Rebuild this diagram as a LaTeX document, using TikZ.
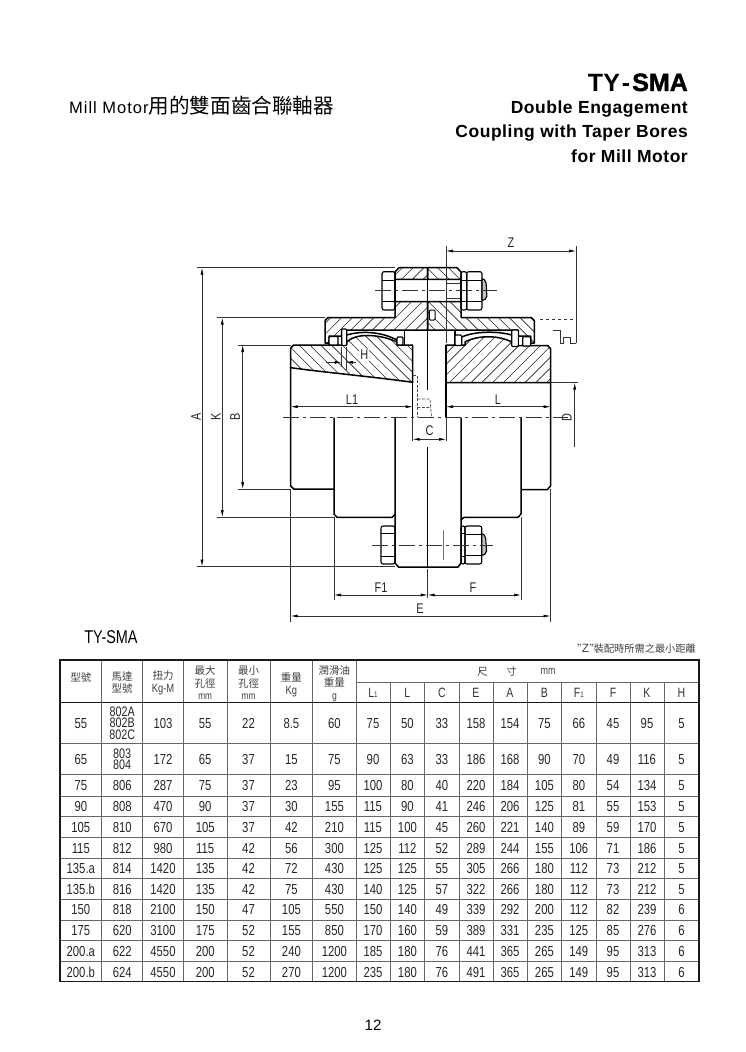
\documentclass[tikz,border=0pt]{standalone}
\usepackage{fontspec}
\setmainfont{Liberation Sans}
\newfontfamily\dft[FakeStretch=0.78]{Liberation Sans}
\newfontfamily\cjk{Noto Sans CJK TC}
\newfontfamily\boldt{Liberation Sans Bold}
\usetikzlibrary{arrows.meta}
\tikzset{
  thickl/.style={line width=1.5pt,black,line join=round},
  thinl/.style={line width=.6pt,black!80},
  hatchline/.style={line width=.6pt,black!85},
  dimboth/.style={thinl,{Latex[length=7pt,width=3pt,black]}-{Latex[length=7pt,width=3pt,black]}},
  dimend/.style={thinl,-{Latex[length=7pt,width=3pt,black]}},
  centre/.style={thinl,dash pattern=on 16pt off 4pt on 3pt off 4pt},
  hidden/.style={line width=.7pt,black!70,dash pattern=on 3pt off 1.5pt},
  lab/.style={font=\dft\fontsize{14}{14}\selectfont,text=black!85,inner sep=0pt},
  tcell/.style={font=\dft\fontsize{14.5}{11.6}\selectfont,text=black!85,inner sep=0pt,align=center},
  tmulti/.style={font=\dft\fontsize{13.8}{11.5}\selectfont,text=black!85,inner sep=0pt,align=center},
  thead/.style={font=\cjk\fontsize{10.5}{12.5}\selectfont,text=black!75,inner sep=0pt,align=center},
  subhead/.style={font=\dft\fontsize{13.5}{13.5}\selectfont,text=black!80,inner sep=0pt},
  sub/.style={font=\boldt\fontsize{17.5}{18}\selectfont,inner sep=0pt,anchor=base east},
  tline/.style={line width=.6pt,black!60},
  tthick/.style={line width=1.3pt,black!90},
}
\newcommand{\cb}[1]{\raisebox{0pt}[10.4pt][0pt]{#1}}
\newcommand{\tblrow}[4]{%
  \node[tcell] (r#1-0) at (80.8,#2) {\cb{#1}};
  \node[tmulti] (r#1-m) at (122.2,#2) {#3};
  \foreach \v [count=\i] in {#4}{
    \pgfmathsetmacro\cx{{163,205.2,248.5,291.4,334.4,373,407.4,441.8,476,510,544.4,578.8,613,647,681.5}[\i-1]}
    \node[tcell] (r#1-\i) at (\cx,#2) {\cb{\v}};
  }%
}
% closed outline with hatching: #1 = path, #2 = +1 for a backslash slope, -1 for a slash slope
\newcommand{\hatched}[2]{%
  \begin{scope}
    \clip #1;
    \foreach \k in {150,160.8,...,700}{
      \draw[hatchline] (\k,250) -- ({\k+#2*150},400);
    }
  \end{scope}
  \draw[thickl] #1;
}
\newcommand{\hexnut}[6]{% x0 x1 ytop ybot yl1 yl2
  \draw[line width=1.1pt,rounded corners=2pt] (#1,#3) rectangle (#2,#4);
  \draw[line width=.8pt] (#1,#5) -- (#2,#5) (#1,#6) -- (#2,#6);
}
\begin{document}
\begin{tikzpicture}[x=1pt,y=-1pt]
\useasboundingbox (0,0) rectangle (745,1052);
\fill[white] (0,0) rectangle (745,1052);

% ---- titles
\node[inner sep=0pt,anchor=base west] (titleleft) at (69,113) {\fontsize{16.5}{18}\selectfont\addfontfeature{LetterSpace=6}Mill Motor\cjk\fontsize{20.6}{22}\selectfont 用的雙面齒合聯軸器};
\node[inner sep=0pt,anchor=base east] (titlea) at (688,91) {\boldt\fontsize{25}{25}\selectfont TY\kern2pt-\kern2pt{\addfontfeature{FakeBold=1.5}SMA}};
\node[sub] (titleb) at (688,113) {\addfontfeature{LetterSpace=3}Double Engagement};
\node[sub] (titlec) at (688,137) {\addfontfeature{LetterSpace=3}Coupling with Taper Bores};
\node[sub] (titled) at (688,162) {\addfontfeature{LetterSpace=3}for Mill Motor};

% ---- hubs
\hatched{(290.7,367.7) .. controls (330,373) and (375,377) .. (412.7,382.3)
  -- (412.7,345) -- (397,345) -- (397,342) .. controls (385,336) and (358,331) .. (346.7,342)
  -- (346.7,345) -- (293.7,345) -- (290.7,348) -- cycle}{1}
\hatched{(446,382.7) -- (446,345) -- (465,345) -- (465,342)
  .. controls (478,335) and (498,335) .. (511.7,342) -- (511.7,345.5) -- (547.5,345.5)
  -- (550.5,348.5) -- (550.5,382.7) -- cycle}{-1}

% ---- sleeve halves with flange
\hatched{(325,343) -- (325,320.5) -- (328,317.5) -- (395,317.5) -- (395,301.7) -- (427.7,301.7)
  -- (427.7,330) -- (341.7,330) -- (341.7,336) -- (329,336) -- (329,343) -- cycle}{-1}
\hatched{(534.3,343) -- (534.3,320.5) -- (531.3,317.5) -- (461,317.5) -- (461,301.7) -- (427.7,301.7)
  -- (427.7,330) -- (518.3,330) -- (518.3,336) -- (530.7,336) -- (530.7,343) -- cycle}{1}
\hatched{(395,279.3) -- (395,272) -- (399,267.7) -- (427.7,267.7) -- (427.7,279.3) -- cycle}{-1}
\hatched{(461,279.3) -- (461,272) -- (457,267.7) -- (427.7,267.7) -- (427.7,279.3) -- cycle}{1}
\draw[thickl] (404.3,330) -- (404.3,345) (455,330) -- (455,345);

% ---- bolt through the upper flange
\draw[thickl] (395,279.3) rectangle (461,301.7) (446.7,279.3) -- (446.7,301.7);
\draw[thinl] (446.7,283) -- (461,283) (446.7,298) -- (461,298);
\hexnut{382}{395}{271.7}{310}{280}{301.7}
\hexnut{461}{466.7}{271.7}{310}{280}{301.7}
\hexnut{466.7}{482}{271.7}{310}{280}{301.7}
\draw[line width=1.1pt,rounded corners=2pt,fill=black!25] (482,278) -- (486,281) -- (487,298) -- (482,301) -- cycle;
\draw[centre] (375,290.7) -- (497,290.7);

% ---- key and joint line
\draw[line width=1pt,rounded corners=1pt,fill=white] (429.3,310) rectangle (435,320);
\draw[line width=1.5pt] (427.7,267.7) -- (427.7,389.7);

% ---- seals, rings and pins
\draw[line width=1.1pt,fill=white,rounded corners=1pt] (329,336.5) rectangle (338,345);
\draw[line width=1.1pt,fill=white,rounded corners=1pt] (341.7,329) rectangle (346.7,345.5);
\draw[line width=1.1pt,fill=white,rounded corners=1pt] (397,337) rectangle (403,345);
\draw[line width=1.5pt] (346.7,335) .. controls (360,331) and (380,331) .. (397,340);
\draw[line width=1.1pt,fill=white,rounded corners=1pt] (455,335) rectangle (461.7,345.5);
\draw[line width=1.1pt,fill=white,rounded corners=1pt] (511.7,330) rectangle (518.3,346.5);
\draw[line width=1.1pt,fill=white,rounded corners=1pt] (522.7,336.7) rectangle (530.7,346);
\draw[line width=1.5pt] (461.7,337) .. controls (475,331) and (498,331) .. (511.7,335);

% ---- body outlines
\draw[thickl] (412.7,345) -- (412.7,417.7) (446,345) -- (446,417.7);
\draw[thickl] (290.7,367.7) -- (290.7,486) -- (293.7,489) -- (334,489);
\draw[thickl] (550.5,382.7) -- (550.5,486) -- (547.5,489.5) -- (521,489.5);
\draw[thickl] (334,417.7) -- (334,514) -- (337,517.3) -- (392,517.3) -- (395,514.5);
\draw[thickl] (521,417.7) -- (521,514) -- (518,517.3) -- (464,517.3) -- (461,520);
\draw[thickl] (395,417.7) -- (395,563) -- (398.5,567) -- (458,567) -- (461,563) -- (461,417.7);
\draw[line width=1.5pt] (427.7,447) -- (427.7,567);

% ---- hidden lines
\draw[hidden] (413,375.5) -- (417.3,375.5) -- (417.3,417);
\draw[hidden] (417.3,399) -- (430,399) -- (431.5,417) (417.3,407.5) -- (430,407.5);

% ---- lower bolt
\hexnut{381}{395}{526}{564}{533.3}{556.7}
\hexnut{461}{465}{526}{564}{533.3}{556.7}
\hexnut{465}{481.7}{526}{564}{534}{555}
\draw[line width=1.1pt,rounded corners=2pt,fill=black!25] (481.7,533) -- (485.5,536) -- (486.7,553) -- (481.7,556) -- cycle;
\draw[centre] (372,545) -- (493,545);
\draw[thinl,black!55] (443.3,530) -- (443.3,560);

% ---- centre line
\draw[centre] (283,417.7) -- (568,417.7);

% ---- dimension A K B
\draw[thinl] (197,267.7) -- (395,267.7) (197,566.5) -- (395,566.5);
\draw[dimboth] (202,267.7) -- (202,566.5);
\node[lab,rotate=90] (labA) at (196,417) {A};
\draw[thinl] (216.7,317.7) -- (325,317.7) (216.7,517) -- (334,517);
\draw[dimboth] (222.3,317.7) -- (222.3,517);
\node[lab,rotate=90] (labK) at (215.7,417) {K};
\draw[thinl] (238,345) -- (291,345) (238,489) -- (291,489);
\draw[dimboth] (242.7,345) -- (242.7,489);
\node[lab,rotate=90] (labB) at (235,417) {B};

% ---- dimension Z
\draw[thinl] (446,246) -- (446,343) (576,246) -- (576,343.3);
\draw[dimboth] (446,251) -- (576,251);
\node[lab] (labZ) at (511,243) {Z};
\draw[thinl,dashed] (540,319) -- (575,319);
\draw[thinl] (553.3,330) -- (560,330) -- (560,343.3) -- (563.3,343.3) -- (563.3,337.3) -- (570,337.3) -- (570,343.3) -- (576,343.3);

% ---- dimension D
\draw[thinl] (551,382.7) -- (578,382.7);
\draw[dimend] (574.7,446.7) -- (574.7,382.7);
\node[lab,rotate=90] (labD) at (566.7,418) {D};

% ---- L1 and L
\draw[dimboth] (290.7,406.7) -- (412.7,406.7);
\node[lab] (labLa) at (352,400) {L1};
\draw[dimboth] (446,406.7) -- (550.5,406.7);
\node[lab] (labL) at (498,400) {L};

% ---- H
\draw[thinl] (341.7,346.7) -- (341.7,367) (346,346.7) -- (346,370);
\draw[dimend] (325.7,362.3) -- (341.7,362.3);
\draw[dimend] (356,362.3) -- (346,362.3);
\node[lab,fill=white,inner sep=1pt] (labH) at (364.3,355) {H};

% ---- C
\draw[thinl] (412.7,417.7) -- (412.7,441) (446,417.7) -- (446,441);
\draw[dimboth] (412.7,439.3) -- (446,439.3);
\node[lab] (labC) at (429.5,431) {C};

% ---- F1 F E
\draw[thinl] (334,517) -- (334,600) (521,517) -- (521,600) (427.7,569) -- (427.7,598);
\draw[dimboth] (334,595) -- (427.7,595);
\draw[dimboth] (427.7,595) -- (521,595);
\node[lab] (labFa) at (381,587.5) {F1};
\node[lab] (labF) at (473,587.5) {F};
\draw[thinl] (290.7,489) -- (290.7,622) (550.5,489) -- (550.5,622);
\draw[dimboth] (290.7,616) -- (550.5,616);
\node[lab] (labE) at (420,609) {E};

% ---- table captions
\node[inner sep=0pt] (tyname) at (111,637) {\dft\fontsize{18.5}{18}\selectfont TY-SMA};
\node[inner sep=0pt,anchor=east,text=black!75] (note) at (696,649) {\fontsize{12}{11}\selectfont ''\kern.5pt Z\kern.5pt''\cjk\fontsize{10.2}{11}\selectfont 裝配時所需之最小距離};

% ---- table grid
\foreach \yy in {743.3,774,796,816,837.3,858.3,878.7,899.3,920,940.7,961.3}{\draw[tline] (60,\yy) -- (699,\yy);}
\foreach \xx in {101.7,142.7,183.3,227,270,312.7,356}{\draw[tline] (\xx,660) -- (\xx,981.7);}
\foreach \xx in {390,424.7,459,493,527,561.7,596,630,664}{\draw[tline] (\xx,682.3) -- (\xx,981.7);}
\draw[tline] (356,682.3) -- (699,682.3);
\draw[tthick] (60,702.3) -- (699,702.3);
\draw[tthick] (60,660) rectangle (699,981.7);

% ---- table header
\node[thead] (h0) at (80.8,677.7) {型號};
\node[thead] (h1) at (122.2,682.5) {馬達\\型號};
\node[thead] (h2) at (163,683) {扭力\\{\dft\fontsize{12}{12}\selectfont Kg-M}};
\node[thead] (h3) at (205.2,683) {最大\\孔徑\\{\dft\fontsize{10.5}{8}\selectfont mm}};
\node[thead] (h4) at (248.5,683) {最小\\孔徑\\{\dft\fontsize{10.5}{8}\selectfont mm}};
\node[thead] (h5) at (291.4,685) {重量\\{\dft\fontsize{12}{12}\selectfont Kg}};
\node[thead] (h6) at (334.4,683.5) {潤滑油\\重量\\{\dft\fontsize{11}{8}\selectfont g}};
\node[thead] (h7) at (482.7,671.7) {尺};
\node[thead] (h8) at (511.7,671.7) {寸};
\node[thead] (h9) at (548,671.7) {\dft\fontsize{11.5}{11}\selectfont mm};
\node[subhead] (s1) at (373,693) {L{\fontsize{8}{8}\selectfont 1}};
\node[subhead] (s2) at (407.4,693) {L};
\node[subhead] (s3) at (441.8,693) {C};
\node[subhead] (s4) at (476,693) {E};
\node[subhead] (s5) at (510,693) {A};
\node[subhead] (s6) at (544.4,693) {B};
\node[subhead] (s7) at (578.8,693) {F{\fontsize{8}{8}\selectfont 1}};
\node[subhead] (s8) at (613,693) {F};
\node[subhead] (s9) at (647,693) {K};
\node[subhead] (s10) at (681.5,693) {H};

% ---- table rows
\tblrow{55}{723}{802A\\802B\\802C}{103,55,22,8.5,60,75,50,33,158,154,75,66,45,95,5}
\tblrow{65}{759}{803\\804}{172,65,37,15,75,90,63,33,186,168,90,70,49,116,5}
\tblrow{75}{785}{\cb{\fontsize{14.5}{11.6}\selectfont 806}}{287,75,37,23,95,100,80,40,220,184,105,80,54,134,5}
\tblrow{90}{806}{\cb{\fontsize{14.5}{11.6}\selectfont 808}}{470,90,37,30,155,115,90,41,246,206,125,81,55,153,5}
\tblrow{105}{827}{\cb{\fontsize{14.5}{11.6}\selectfont 810}}{670,105,37,42,210,115,100,45,260,221,140,89,59,170,5}
\tblrow{115}{848}{\cb{\fontsize{14.5}{11.6}\selectfont 812}}{980,115,42,56,300,125,112,52,289,244,155,106,71,186,5}
\tblrow{135.a}{868.5}{\cb{\fontsize{14.5}{11.6}\selectfont 814}}{1420,135,42,72,430,125,125,55,305,266,180,112,73,212,5}
\tblrow{135.b}{889}{\cb{\fontsize{14.5}{11.6}\selectfont 816}}{1420,135,42,75,430,140,125,57,322,266,180,112,73,212,5}
\tblrow{150}{909.5}{\cb{\fontsize{14.5}{11.6}\selectfont 818}}{2100,150,47,105,550,150,140,49,339,292,200,112,82,239,6}
\tblrow{175}{930.5}{\cb{\fontsize{14.5}{11.6}\selectfont 620}}{3100,175,52,155,850,170,160,59,389,331,235,125,85,276,6}
\tblrow{200.a}{951}{\cb{\fontsize{14.5}{11.6}\selectfont 622}}{4550,200,52,240,1200,185,180,76,441,365,265,149,95,313,6}
\tblrow{200.b}{972}{\cb{\fontsize{14.5}{11.6}\selectfont 624}}{4550,200,52,270,1200,235,180,76,491,365,265,149,95,313,6}

\node[inner sep=0pt] (pagenum) at (373,1025) {\fontsize{15}{15}\selectfont 12};
\end{tikzpicture}
\end{document}
